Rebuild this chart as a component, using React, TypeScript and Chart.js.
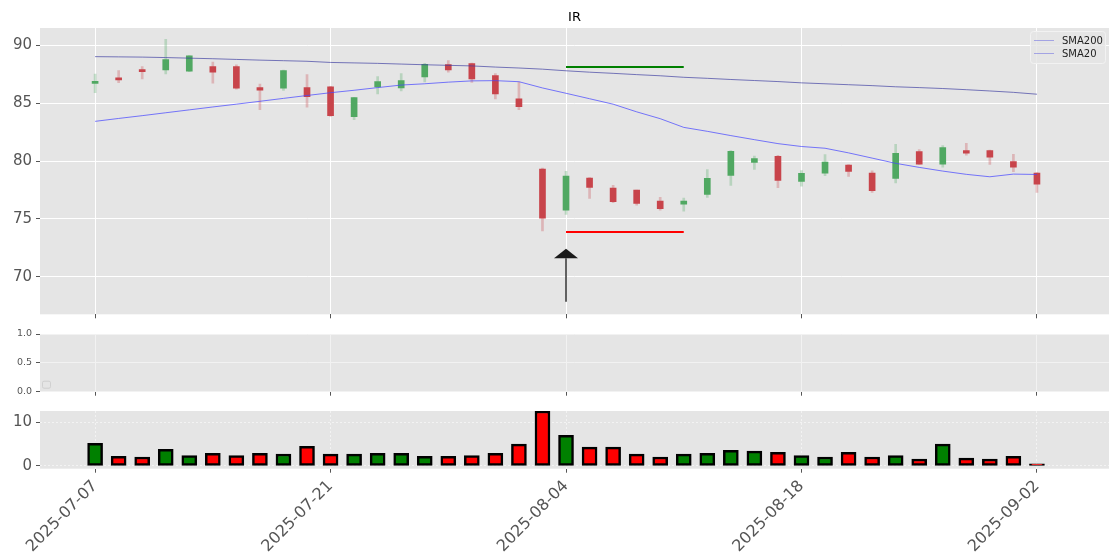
import React, { useEffect, useRef } from 'react';
import { Chart, registerables } from 'chart.js';

Chart.register(...registerables);

// ---------------- data ----------------
const dates = [
  '2025-07-07', '2025-07-08', '2025-07-09', '2025-07-10', '2025-07-11',
  '2025-07-14', '2025-07-15', '2025-07-16', '2025-07-17', '2025-07-18',
  '2025-07-21', '2025-07-22', '2025-07-23', '2025-07-24', '2025-07-25',
  '2025-07-28', '2025-07-29', '2025-07-30', '2025-07-31', '2025-08-01',
  '2025-08-04', '2025-08-05', '2025-08-06', '2025-08-07', '2025-08-08',
  '2025-08-11', '2025-08-12', '2025-08-13', '2025-08-14', '2025-08-15',
  '2025-08-18', '2025-08-19', '2025-08-20', '2025-08-21', '2025-08-22',
  '2025-08-25', '2025-08-26', '2025-08-27', '2025-08-28', '2025-08-29',
  '2025-09-02',
];

const opens = [
  86.7, 87.1, 87.88, 87.85, 87.74, 88.14, 88.14, 86.33, 86.28, 86.33,
  86.4, 83.82, 86.39, 86.31, 87.25, 88.31, 88.4, 87.37, 85.36, 79.3,
  75.75, 78.53, 77.67, 77.5, 76.55, 76.27, 77.12, 78.76, 79.87, 80.4,
  78.24, 78.95, 79.64, 78.95, 78.5, 80.81, 79.73, 80.9, 80.9, 79.96,
  78.95,
];
const highs = [
  87.5, 87.8, 88.14, 90.49, 89.1, 88.54, 88.3, 86.63, 87.85, 87.45,
  86.45, 85.5, 87.28, 87.54, 88.43, 88.65, 88.45, 87.54, 86.8, 79.4,
  79.1, 78.58, 77.9, 77.5, 76.87, 76.8, 79.27, 80.9, 80.43, 80.5,
  79.18, 80.56, 79.7, 79.16, 81.44, 80.99, 81.33, 81.53, 80.95, 80.58,
  79.0,
];
const lows = [
  85.9, 86.76, 87.08, 87.5, 87.7, 86.71, 86.2, 84.42, 86.08, 84.65,
  83.85, 83.56, 85.79, 86.05, 86.82, 87.66, 86.77, 85.36, 84.42, 73.97,
  75.4, 76.78, 76.41, 76.2, 75.75, 75.67, 76.87, 77.9, 79.27, 77.7,
  77.84, 78.73, 78.67, 77.3, 78.1, 79.7, 79.47, 80.5, 79.7, 79.07,
  77.3,
];
const closes = [
  86.85, 87.0, 87.7, 88.74, 89.08, 87.66, 86.28, 86.11, 87.79, 85.54,
  83.9, 85.48, 86.85, 86.94, 88.34, 87.85, 87.08, 85.79, 84.68, 75.06,
  78.7, 77.73, 76.5, 76.35, 75.9, 76.55, 78.5, 80.84, 80.2, 78.33,
  78.93, 79.9, 79.1, 77.44, 80.67, 79.73, 81.16, 80.67, 80.33, 79.47,
  78.0,
];
const volumes = [
  5.2, 2.2, 2.06, 3.8, 2.4, 2.9, 2.4, 2.9, 2.75, 4.5,
  2.7, 2.7, 2.9, 2.9, 2.2, 2.2, 2.4, 2.9, 5.0, 12.6,
  7.0, 4.3, 4.3, 2.7, 2.06, 2.7, 2.9, 3.6, 3.4, 3.1,
  2.4, 2.06, 3.1, 2.06, 2.4, 1.6, 5.0, 1.8, 1.6, 2.2,
  0.5,
];
const sma200 = [
  89.0, 88.98, 88.96, 88.92, 88.87, 88.82, 88.76, 88.7, 88.65, 88.6,
  88.5, 88.46, 88.42, 88.36, 88.3, 88.25, 88.2, 88.1, 88.02, 87.92,
  87.78, 87.66, 87.56, 87.45, 87.35, 87.22, 87.13, 87.03, 86.94, 86.85,
  86.74, 86.66, 86.58, 86.5, 86.4, 86.33, 86.25, 86.15, 86.04, 85.92,
  85.76,
];
const sma20 = [
  83.42, 83.67, 83.91, 84.16, 84.41, 84.66, 84.9, 85.15, 85.4, 85.65,
  85.89, 86.1, 86.33, 86.55, 86.66, 86.8, 86.91, 86.93, 86.84, 86.3,
  85.84, 85.37, 84.9, 84.24, 83.65, 82.9, 82.56, 82.19, 81.84, 81.5,
  81.25, 81.1, 80.7, 80.25, 79.8, 79.45, 79.13, 78.85, 78.64, 78.87,
  78.84,
];

const tickIdx = [0, 10, 20, 30, 40];
const tickLabels = ['2025-07-07', '2025-07-21', '2025-08-04', '2025-08-18', '2025-09-02'];
const priceTicks = [70, 75, 80, 85, 90];
const midTicks = [0, 0.5, 1];
const volTicks = [0, 10];

const resistanceLevel = 88.1;
const supportLevel = 73.88;
const levelFrom = 20;
const levelTo = 25;
const arrowIdx = 20;
const arrowTail = 67.87;
const arrowTip = 72.44;

const title = 'IR';
const legendNames = ['SMA200', 'SMA20'];

// ---------------- styles ----------------
const FONT = "'DejaVu Sans', sans-serif";
const TICK_COLOR = '#555555';
const PANEL_BG = '#e5e5e5';
const UP_BODY = 'rgb(80,168,98)';
const DOWN_BODY = 'rgb(200,68,75)';
const UP_WICK = 'rgba(80,168,98,0.3)';
const DOWN_WICK = 'rgba(200,68,75,0.3)';
const X_MIN = -2.34;
const X_MAX = 43.06;

const bgPlugin = {
  id: 'panelBg',
  beforeDraw(chart: any) {
    const { ctx, chartArea: a } = chart;
    ctx.save();
    ctx.fillStyle = PANEL_BG;
    ctx.fillRect(a.left, a.top, a.right - a.left, a.bottom - a.top);
    ctx.restore();
  },
};

function fixWidth(w: number) {
  return (scale: any) => {
    scale.width = w;
    scale.paddingTop = 0;
    scale.paddingBottom = 0;
  };
}
function fixHeight(h: number) {
  return (scale: any) => {
    scale.height = h;
    scale.paddingLeft = 0;
    scale.paddingRight = 0;
  };
}
function setTicks(values: number[]) {
  return (scale: any) => {
    scale.ticks = values.map((v) => ({ value: v }));
  };
}

function xAxis(showLabels: boolean, h: number, gridColor: string, dash: number[] = []) {
  return {
    type: 'linear',
    min: X_MIN,
    max: X_MAX,
    offset: false,
    afterBuildTicks: setTicks(tickIdx),
    afterFit: fixHeight(h),
    border: { display: false, dash },
    grid: {
      offset: false,
      color: gridColor,
      lineWidth: 1,
      drawTicks: true,
      tickLength: 4,
      tickColor: TICK_COLOR,
      tickWidth: 1,
    },
    ticks: {
      display: showLabels,
      autoSkip: false,
      maxRotation: 45,
      minRotation: 45,
      padding: 4,
      color: TICK_COLOR,
      font: { family: FONT, size: 16 },
      callback: (v: number) => {
        const k = tickIdx.indexOf(v);
        return k >= 0 ? tickLabels[k] : '';
      },
    },
  };
}

function yAxis(min: number, max: number, ticks: number[], size: number, fmt: (v: number) => string, gridColor: string, dash: number[] = []) {
  return {
    type: 'linear',
    min,
    max,
    afterBuildTicks: setTicks(ticks),
    afterFit: fixWidth(40),
    border: { display: false, dash },
    grid: {
      color: gridColor,
      lineWidth: 1,
      drawTicks: true,
      tickLength: 4,
      tickColor: TICK_COLOR,
    },
    ticks: {
      padding: 4,
      color: TICK_COLOR,
      font: { family: FONT, size },
      callback: (v: number) => fmt(v),
    },
  };
}

const mainOverlay = {
  id: 'mainOverlay',
  afterDraw(chart: any) {
    const { ctx, chartArea: a, scales } = chart;
    const xs = scales.x;
    const ys = scales.y;
    ctx.save();
    // arrow
    const ax = xs.getPixelForValue(arrowIdx);
    const yTail = ys.getPixelForValue(arrowTail);
    const yTip = ys.getPixelForValue(arrowTip);
    const headLen = 9.6;
    ctx.strokeStyle = '#000';
    ctx.lineWidth = 1.2;
    ctx.beginPath();
    ctx.moveTo(ax, yTail);
    ctx.lineTo(ax, yTip + headLen);
    ctx.stroke();
    ctx.fillStyle = '#1a1a1a';
    ctx.beginPath();
    ctx.moveTo(ax, yTip);
    ctx.lineTo(ax - 12, yTip + headLen);
    ctx.lineTo(ax + 12, yTip + headLen);
    ctx.closePath();
    ctx.fill();

    // title
    ctx.fillStyle = '#000';
    ctx.font = `13px ${FONT}`;
    ctx.textAlign = 'center';
    ctx.textBaseline = 'alphabetic';
    ctx.fillText(title, (a.left + a.right) / 2, 21);

    // legend
    const bx = a.right - 79;
    const by = a.top + 3;
    const bw = 75;
    const bh = 32;
    ctx.fillStyle = 'rgba(229,229,229,0.8)';
    ctx.strokeStyle = '#f2f2f2';
    ctx.lineWidth = 1;
    ctx.beginPath();
    (ctx as any).roundRect(bx + 0.5, by + 0.5, bw, bh, 3);
    ctx.fill();
    ctx.stroke();
    ctx.font = `10px ${FONT}`;
    ctx.textAlign = 'left';
    ctx.textBaseline = 'middle';
    legendNames.forEach((name, i) => {
      const ly = by + 9.5 + i * 13;
      ctx.strokeStyle = 'rgba(110,110,225,0.55)';
      ctx.lineWidth = 1;
      ctx.beginPath();
      ctx.moveTo(bx + 4, ly);
      ctx.lineTo(bx + 24, ly);
      ctx.stroke();
      ctx.fillStyle = '#222';
      ctx.fillText(name, bx + 32, ly + 0.5);
    });
    ctx.restore();
  },
};

const midOverlay = {
  id: 'midOverlay',
  afterDraw(chart: any) {
    const { ctx, chartArea: a } = chart;
    ctx.save();
    ctx.fillStyle = 'rgba(229,229,229,0.8)';
    ctx.strokeStyle = 'rgba(205,205,205,0.9)';
    ctx.lineWidth = 1;
    ctx.beginPath();
    (ctx as any).roundRect(a.left + 2.5, a.bottom - 10.5, 8, 7, 1.5);
    ctx.fill();
    ctx.stroke();
    ctx.restore();
  },
};

export default function App() {
  const refA = useRef<HTMLCanvasElement>(null);
  const refB = useRef<HTMLCanvasElement>(null);
  const refC = useRef<HTMLCanvasElement>(null);

  useEffect(() => {
    const up = dates.map((_, i) => closes[i] >= opens[i]);

    const mainChart = new Chart(refA.current as HTMLCanvasElement, {
      type: 'bar',
      data: {
        datasets: [
          {
            type: 'line',
            label: 'support',
            data: [{ x: levelFrom, y: supportLevel }, { x: levelTo, y: supportLevel }],
            borderColor: '#ff0000',
            borderWidth: 2,
            pointRadius: 0,
            order: 0,
          },
          {
            type: 'line',
            label: 'resistance',
            data: [{ x: levelFrom, y: resistanceLevel }, { x: levelTo, y: resistanceLevel }],
            borderColor: '#008000',
            borderWidth: 2,
            pointRadius: 0,
            order: 0,
          },
          {
            type: 'line',
            label: 'SMA20',
            data: sma20.map((v, i) => ({ x: i, y: v })),
            borderColor: 'rgba(70,70,255,0.72)',
            borderWidth: 1,
            pointRadius: 0,
            tension: 0,
            order: 1,
          },
          {
            type: 'line',
            label: 'SMA200',
            data: sma200.map((v, i) => ({ x: i, y: v })),
            borderColor: 'rgba(60,60,160,0.68)',
            borderWidth: 1,
            pointRadius: 0,
            tension: 0,
            order: 1,
          },
          {
            type: 'bar',
            label: 'body',
            data: dates.map((_, i) => ({ x: i, y: [opens[i], closes[i]] })) as any,
            backgroundColor: up.map((u) => (u ? UP_BODY : DOWN_BODY)),
            borderWidth: 0,
            barThickness: 6,
            minBarLength: 2,
            grouped: false,
            order: 2,
          } as any,
          {
            type: 'bar',
            label: 'wick',
            data: dates.map((_, i) => ({ x: i, y: [lows[i], highs[i]] })) as any,
            backgroundColor: up.map((u) => (u ? UP_WICK : DOWN_WICK)),
            borderWidth: 0,
            barThickness: 2,
            grouped: false,
            order: 3,
          } as any,
        ],
      },
      options: {
        responsive: false,
        animation: false,
        devicePixelRatio: 1,
        layout: { padding: { left: 0, right: 11, top: 28, bottom: 239.7 } },
        plugins: { legend: { display: false }, tooltip: { enabled: false } },
        scales: {
          x: xAxis(false, 6, '#ffffff') as any,
          y: yAxis(66.78, 91.47, priceTicks, 15, (v) => String(v), '#ffffff') as any,
        },
      },
      plugins: [bgPlugin, mainOverlay],
    });

    const midChart = new Chart(refB.current as HTMLCanvasElement, {
      type: 'line',
      data: { datasets: [] },
      options: {
        responsive: false,
        animation: false,
        devicePixelRatio: 1,
        layout: { padding: { left: 0, right: 11, top: 334, bottom: 162.3 } },
        plugins: { legend: { display: false }, tooltip: { enabled: false } },
        scales: {
          x: xAxis(false, 6, '#f2f2f2') as any,
          y: yAxis(0, 1, midTicks, 9.5, (v) => v.toFixed(1), '#f2f2f2') as any,
        },
      },
      plugins: [bgPlugin, midOverlay],
    });

    const volChart = new Chart(refC.current as HTMLCanvasElement, {
      type: 'bar',
      data: {
        datasets: [
          {
            label: 'Volume',
            data: volumes.map((v, i) => ({ x: i, y: v })) as any,
            backgroundColor: up.map((u) => (u ? '#008000' : '#ff0000')),
            borderColor: '#000000',
            borderWidth: 2.5,
            borderSkipped: false,
            barThickness: 15,
            grouped: false,
          } as any,
        ],
      },
      options: {
        responsive: false,
        animation: false,
        devicePixelRatio: 1,
        layout: { padding: { left: 0, right: 11, top: 411, bottom: 0 } },
        plugins: { legend: { display: false }, tooltip: { enabled: false } },
        scales: {
          x: xAxis(true, 91.3, 'rgba(255,255,255,0.55)', [2, 2]) as any,
          y: yAxis(-0.63, 12.6, volTicks, 15, (v) => String(v), 'rgba(255,255,255,0.55)', [2, 2]) as any,
        },
      },
      plugins: [bgPlugin],
    });

    return () => {
      mainChart.destroy();
      midChart.destroy();
      volChart.destroy();
    };
  }, []);

  const cs: React.CSSProperties = { position: 'absolute', left: 0, top: 0 };
  return (
    <div style={{ position: 'fixed', left: 0, top: 0, width: 1120, height: 560, background: '#ffffff' }}>
      <canvas ref={refA} width={1120} height={560} style={cs} />
      <canvas ref={refB} width={1120} height={560} style={cs} />
      <canvas ref={refC} width={1120} height={560} style={cs} />
    </div>
  );
}
